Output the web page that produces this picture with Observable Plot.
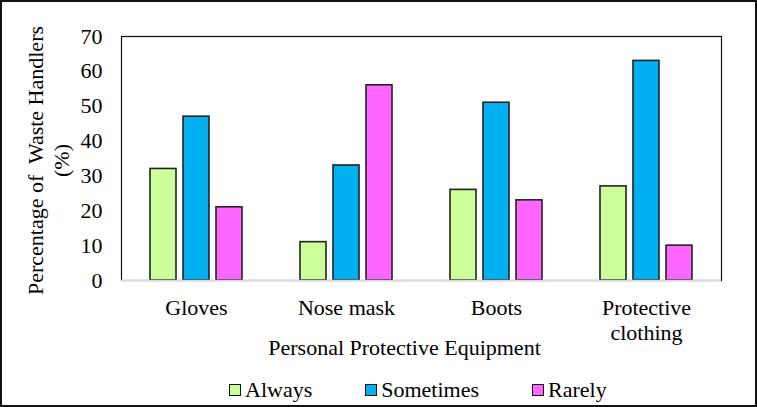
<!DOCTYPE html>
<html>
<head>
<meta charset="utf-8">
<script src="https://cdn.jsdelivr.net/npm/d3@7"></script>
<script src="https://cdn.jsdelivr.net/npm/@observablehq/plot@0.6"></script>
<style>
  body { margin: 0; background: white; }
  #wrap { position: relative; width: 757px; height: 407px; box-sizing: border-box; border: 2px solid #111; background: white; overflow: hidden; }
  #legend { position: absolute; left: 227px; top: 375px; display: flex; align-items: center; font-family: "Liberation Serif", "Times New Roman", serif; font-size: 22px; color: black; }
  #legend .item { display: flex; align-items: center; margin-right: 53px; }
  #legend .item:last-child { margin-right: 0; }
  #legend .sw { width: 10px; height: 10px; border: 1px solid #111; margin-right: 4px; }
</style>
</head>
<body>
<div id="wrap"><div id="chart"></div><div id="legend"></div></div>
<script>
const categories = ["Gloves", "Nose mask", "Boots", "Protective\nclothing"];
const series = ["Always", "Sometimes", "Rarely"];
const always = [32, 11, 26, 27];
const sometimes = [47, 33, 51, 63];
const rarely = [21, 56, 23, 10];
const yTicks = [0, 10, 20, 30, 40, 50, 60, 70];
const colors = ["#ccff99", "#00b0f0", "#ff66ff"];
const xTitle = "Personal Protective Equipment";
const yTitle = "Percentage of  Waste Handlers\n(%)";

const seriesValues = [always, sometimes, rarely];
const data = categories.flatMap((c, i) => series.map((s, j) => ({category: c, series: s, value: seriesValues[j][i]})));

const font = "'Liberation Serif', 'Times New Roman', serif";
const chart = Plot.plot({
  width: 753,
  height: 365,
  marginLeft: 118,
  marginRight: 34,
  marginTop: 34,
  marginBottom: 87,
  style: {fontFamily: font, fontSize: "22px", color: "black", background: "white"},
  fx: {domain: categories, padding: 0, label: null},
  x: {domain: series, paddingInner: 0.21, paddingOuter: 0.844, axis: null},
  y: {domain: [0, 70], axis: null},
  color: {domain: series, range: colors},
  marks: [
    Plot.frame({stroke: "#111", strokeWidth: 1.2, facet: "super"}),
    Plot.barY(data, {fx: "category", x: "series", y: "value", fill: "series", stroke: "#222", strokeWidth: 1.6}),
    Plot.ruleY([0], {stroke: "#d9d9d9", strokeWidth: 1.5}),
    Plot.axisY({ticks: yTicks, tickSize: 0, tickPadding: 19, label: null, fontSize: 22, fill: "black"}),
    Plot.axisFx({anchor: "bottom", tickSize: 0, tickPadding: 17, label: null, fontSize: 22, lineHeight: 1.14, fill: "black"}),
    Plot.text([xTitle], {frameAnchor: "bottom", dy: 74, dx: -17, fontSize: 22, fill: "black", facet: "super"}),
    Plot.text([yTitle], {frameAnchor: "left", textAnchor: "middle", dx: -74, dy: 2, rotate: -90, lineHeight: 1.2, fontSize: 22, fill: "black", facet: "super"})
  ]
});
document.getElementById("chart").appendChild(chart);

const legend = document.getElementById("legend");
series.forEach((s, i) => {
  const item = document.createElement("div");
  item.className = "item";
  const sw = document.createElement("span");
  sw.className = "sw";
  sw.style.background = colors[i];
  const label = document.createElement("span");
  label.textContent = s;
  item.appendChild(sw);
  item.appendChild(label);
  legend.appendChild(item);
});
</script>
</body>
</html>
